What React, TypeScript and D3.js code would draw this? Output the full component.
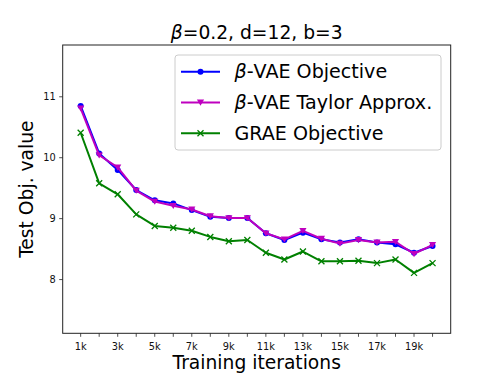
import * as d3 from "d3";

// training iterations (in thousands)
const iterations = d3.range(1, 21);
const xTickLabels = ["1k", "3k", "5k", "7k", "9k", "11k", "13k", "15k", "17k", "19k"];
const yTicks = [8, 9, 10, 11];

const vaeObjective = [10.85, 10.07, 9.8, 9.47, 9.3, 9.25, 9.14, 9.03, 9.01, 9.01,
  8.76, 8.65, 8.77, 8.66, 8.61, 8.66, 8.61, 8.58, 8.44, 8.55];
const vaeTaylor = [10.81, 10.04, 9.84, 9.46, 9.28, 9.21, 9.15, 9.04, 9.01, 9.01,
  8.76, 8.66, 8.8, 8.67, 8.59, 8.65, 8.61, 8.62, 8.42, 8.57];
const graeObjective = [10.41, 9.58, 9.4, 9.07, 8.88, 8.85, 8.8, 8.7, 8.63, 8.65,
  8.44, 8.33, 8.46, 8.3, 8.3, 8.31, 8.27, 8.33, 8.11, 8.27];

const seriesNames = ["\u03b2-VAE Objective", "\u03b2-VAE Taylor Approx.", "GRAE Objective"];

const FONT = "DejaVu Sans, sans-serif";

function Marker({ kind, x, y, color }) {
  if (kind === "circle") return <circle cx={x} cy={y} r={3} fill={color} />;
  if (kind === "tri") {
    const s = 3.6;
    return <path d={`M${x - s},${y - s * 0.8}L${x + s},${y - s * 0.8}L${x},${y + s * 0.9}Z`} fill={color} />;
  }
  const s = 3;
  return (
    <path d={`M${x - s},${y - s}L${x + s},${y + s}M${x - s},${y + s}L${x + s},${y - s}`}
      stroke={color} strokeWidth={1.3} fill="none" />
  );
}

export default function App() {
  const width = 500, height = 375;
  const margin = { left: 62.7, right: 49.3, top: 45, bottom: 41.7 };

  const xScale = d3.scaleLinear().domain([0.03, 20.98]).range([margin.left, width - margin.right]);
  const yScale = d3.scaleLinear().domain([7.118, 11.85]).range([height - margin.bottom, margin.top]);

  const series = [
    { name: seriesNames[0], values: vaeObjective, color: "#0000ff", marker: "circle" },
    { name: seriesNames[1], values: vaeTaylor, color: "#bf00bf", marker: "tri" },
    { name: seriesNames[2], values: graeObjective, color: "#008000", marker: "x" },
  ];

  const line = d3.line<number>()
    .x((_, i) => xScale(iterations[i]))
    .y((d) => yScale(d));

  const x0 = margin.left, x1 = width - margin.right;
  const y0 = margin.top, y1 = height - margin.bottom;

  return (
    <svg width={width} height={height} style={{ position: "absolute", left: 0, top: 0, background: "#fff" }}
      fontFamily={FONT}>
      <rect x={0} y={0} width={width} height={height} fill="#fff" />

      {/* data lines */}
      {series.map((s) => (
        <g key={s.name}>
          <path d={line(s.values) || ""} fill="none" stroke={s.color} strokeWidth={2} strokeLinejoin="round" />
          {s.values.map((v, i) => (
            <Marker key={i} kind={s.marker} x={xScale(iterations[i])} y={yScale(v)} color={s.color} />
          ))}
        </g>
      ))}

      {/* frame */}
      <rect x={x0} y={y0} width={x1 - x0} height={y1 - y0} fill="none" stroke="#222" strokeWidth={1} />

      {/* x axis ticks */}
      {iterations.map((t) => (
        <line key={t} x1={xScale(t)} x2={xScale(t)} y1={y1} y2={y1 + 3.5} stroke="#222" strokeWidth={0.8} />
      ))}
      {xTickLabels.map((lab, i) => (
        <text key={lab} x={xScale(1 + i * 2)} y={350} fontSize={9.8} textAnchor="middle" fill="#111">{lab}</text>
      ))}

      {/* y axis ticks */}
      {yTicks.map((t) => (
        <g key={t}>
          <line x1={x0 - 3.5} x2={x0} y1={yScale(t)} y2={yScale(t)} stroke="#222" strokeWidth={0.8} />
          <text x={x0 - 7} y={yScale(t)} dy="0.35em" fontSize={9.8} textAnchor="end" fill="#111">{t}</text>
        </g>
      ))}

      {/* labels */}
      <text x={(x0 + x1) / 2} y={369} fontSize={18.7} textAnchor="middle">Training iterations</text>
      <text transform={`translate(33, ${(y0 + y1) / 2}) rotate(-90)`} fontSize={18.7} textAnchor="middle">Test Obj. value</text>
      <text x={(x0 + x1) / 2} y={39} fontSize={18.7} textAnchor="middle">
        <tspan fontStyle="italic">{"\u03b2"}</tspan>=0.2, d=12, b=3
      </text>

      {/* legend */}
      <rect x={175} y={55} width={266} height={95} rx={3} fill="#fff" fillOpacity={0.8} stroke="#ccc" strokeWidth={1} />
      {series.map((s, i) => {
        const ly = 71.7 + i * 30.8;
        return (
          <g key={s.name}>
            <line x1={181} x2={220} y1={ly} y2={ly} stroke={s.color} strokeWidth={2} />
            <Marker kind={s.marker} x={200.5} y={ly} color={s.color} />
            <text x={234.5} y={ly + 6.5} fontSize={19.1}>
              {s.name.startsWith("\u03b2") ? (
                <>
                  <tspan fontStyle="italic">{"\u03b2"}</tspan>
                  {s.name.slice(1)}
                </>
              ) : s.name}
            </text>
          </g>
        );
      })}
    </svg>
  );
}
